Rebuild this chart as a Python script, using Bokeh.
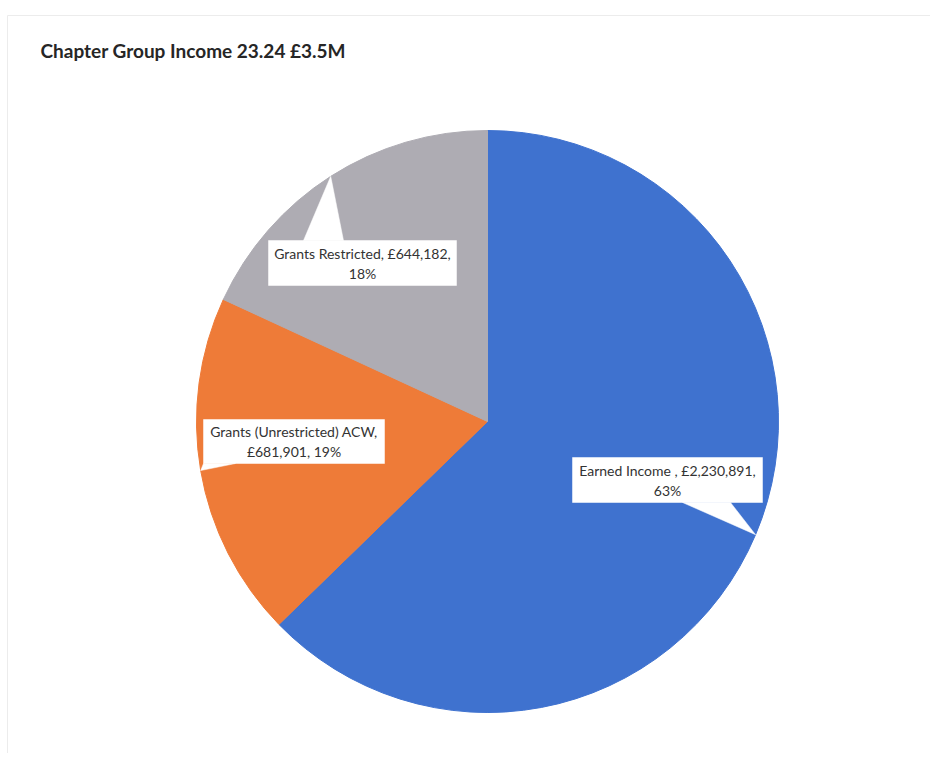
import numpy as np
from bokeh.plotting import figure
from bokeh.models import Range1d, ColumnDataSource
from bokeh.embed import file_html
from bokeh.resources import INLINE
from bokeh.core.properties import value

# ---- data ----
categories = ["Earned Income ", "Grants (Unrestricted) ACW", "Grants Restricted"]
amounts = [2230891, 681901, 644182]
colors = ["#3F72CF", "#EE7B38", "#AEACB3"]
title_text = "Chapter Group Income 23.24 £3.5M"
# which comma-separated part starts the second line of each label
break_at = [2, 1, 2]

# ---- layout (page pixel coords; y measured from the top) ----
W, H = 930, 753
def Y(py):
    return 769 - py

CX, CY, R = 487, 421, 291
# label boxes: (left, right, top, bottom), pointer base (x0, x1, y)
boxes = [
    (572, 762, 457, 502, (682, 730, 502)),
    (203, 384, 419, 463, (203, 235, 463)),
    (268, 456, 240, 285, (303, 343, 240)),
]
FONT = "Lato"

p = figure(width=W, height=H, x_range=Range1d(0, W), y_range=Range1d(769 - H, 769),
           output_backend="svg", toolbar_location=None, min_border=0)
p.axis.visible = False
p.grid.visible = False
p.outline_line_color = None
p.background_fill_color = "white"
p.border_fill_color = "white"

# faint chart border
p.line(x=[7, 940], y=[Y(15), Y(15)], line_color="#ECECEC", line_width=1)
p.line(x=[7, 7], y=[Y(15), Y(769)], line_color="#ECECEC", line_width=1)

# ---- pie ----
vals = np.array(amounts, dtype=float)
frac = vals / vals.sum()
cum = np.concatenate([[0.0], np.cumsum(frac)])
start = np.pi / 2 - cum[1:] * 2 * np.pi
end = np.pi / 2 - cum[:-1] * 2 * np.pi
mid = (start + end) / 2

src = ColumnDataSource(dict(start=start, end=end, color=colors))
p.wedge(x=CX, y=Y(CY), radius=R, start_angle="start", end_angle="end",
        fill_color="color", line_color="color", line_width=1, source=src)

# ---- callout labels ----
pcts = np.round(frac * 100).astype(int)
tx, ty, tt = [], [], []
for i, cat in enumerate(categories):
    l, rr, t, b, (bx0, bx1, by) = boxes[i]
    parts = [cat, "£{:,}".format(amounts[i]), "{}%".format(pcts[i])]
    k = break_at[i]
    line1 = ", ".join(parts[:k]) + ","
    line2 = ", ".join(parts[k:])
    ax = CX + R * np.cos(mid[i])
    ay = Y(CY) + R * np.sin(mid[i])
    p.patch(x=[bx0, bx1, ax], y=[Y(by), Y(by), ay], fill_color="white", line_color="white", line_width=0.5)
    p.quad(left=l, right=rr, top=Y(t), bottom=Y(b), fill_color="white", line_color="white", line_width=0.5)
    xc = (l + rr) / 2
    yc = (t + b) / 2
    tx += [xc, xc]
    ty += [Y(yc - 10), Y(yc + 10)]
    tt += [line1, line2]

p.text(x=tx, y=ty, text=tt, text_font=value(FONT), text_font_size="14px",
       text_color="#333333", text_align="center", text_baseline="middle")

# ---- title ----
p.text(x=[40], y=[Y(50)], text=[title_text], text_font=value(FONT), text_font_size="19px",
       text_font_style="bold", text_color="#262626", text_align="left", text_baseline="alphabetic")

open("out.html", "w").write(file_html(p, INLINE))
